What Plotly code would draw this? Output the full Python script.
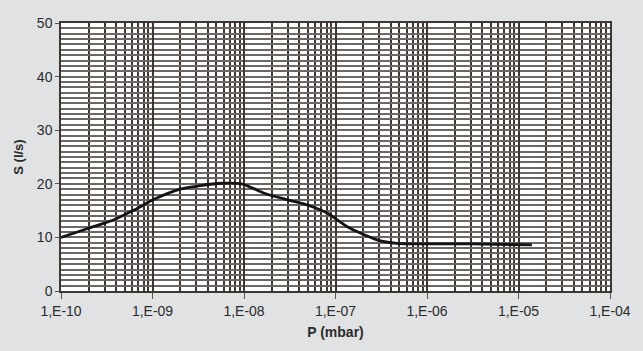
import plotly.graph_objects as go

# Data
pressure = [1e-10, 2e-10, 3.9e-10, 6.3e-10, 1.04e-9, 2e-9, 3.2e-9, 5.7e-9, 9.4e-9,
            1.7e-8, 3e-8, 5e-8, 8.2e-8, 1.35e-7, 2.9e-7, 4.7e-7, 1e-6, 3e-6, 1.4e-5]
speed = [10.0, 11.7, 13.4, 15.1, 17.1, 19.0, 19.6, 20.1, 20.0,
         18.2, 17.0, 16.0, 14.5, 12.0, 9.5, 8.9, 8.8, 8.8, 8.6]

x_tickvals = [1e-10, 1e-9, 1e-8, 1e-7, 1e-6, 1e-5, 1e-4]
x_ticktext = ["1,E-10", "1,E-09", "1,E-08", "1,E-07", "1,E-06", "1,E-05", "1,E-04"]
y_tickvals = [0, 10, 20, 30, 40, 50]

font_family = "Liberation Sans, Arial, sans-serif"
text_color = "#2b2b2b"
vgrid = "#3d3633"
hgrid = "#6e6864"

fig = go.Figure()
fig.add_trace(go.Scatter(
    x=pressure, y=speed, mode="lines",
    line=dict(color="#141414", width=2.8, shape="spline", smoothing=0.8),
    showlegend=False, hoverinfo="skip",
))

fig.update_layout(
    width=643, height=351,
    margin=dict(l=61, r=28, t=23, b=60),
    paper_bgcolor="#e1e2e4",
    plot_bgcolor="#ffffff",
    font=dict(family=font_family, size=14, color=text_color),
    xaxis=dict(
        type="log", range=[-10, -4],
        tickvals=x_tickvals, ticktext=x_ticktext,
        ticks="outside", ticklen=6, tickwidth=1, tickcolor="#555555",
        showgrid=True, gridcolor=vgrid, gridwidth=2,
        minor=dict(dtick="D1", showgrid=True, gridcolor=vgrid, gridwidth=2, ticks=""),
        showline=True, linecolor=vgrid, linewidth=1.5, mirror=True,
        zeroline=False,
        title=dict(text="<b>P (mbar)</b>", font=dict(size=14, color=text_color), standoff=10),
        tickfont=dict(size=14, color=text_color),
    ),
    yaxis=dict(
        range=[0, 50],
        tickvals=y_tickvals,
        ticks="outside", ticklen=4, tickwidth=1, tickcolor="#555555",
        showgrid=True, gridcolor=hgrid, gridwidth=2,
        minor=dict(dtick=1, showgrid=True, gridcolor=hgrid, gridwidth=2, ticks=""),
        showline=True, linecolor=vgrid, linewidth=1.5, mirror=True,
        zeroline=False,
        title=dict(text="<b>S (l/s)</b>", font=dict(size=13, color=text_color), standoff=10),
        tickfont=dict(size=14, color=text_color),
    ),
)

fig.write_html("out.html")
